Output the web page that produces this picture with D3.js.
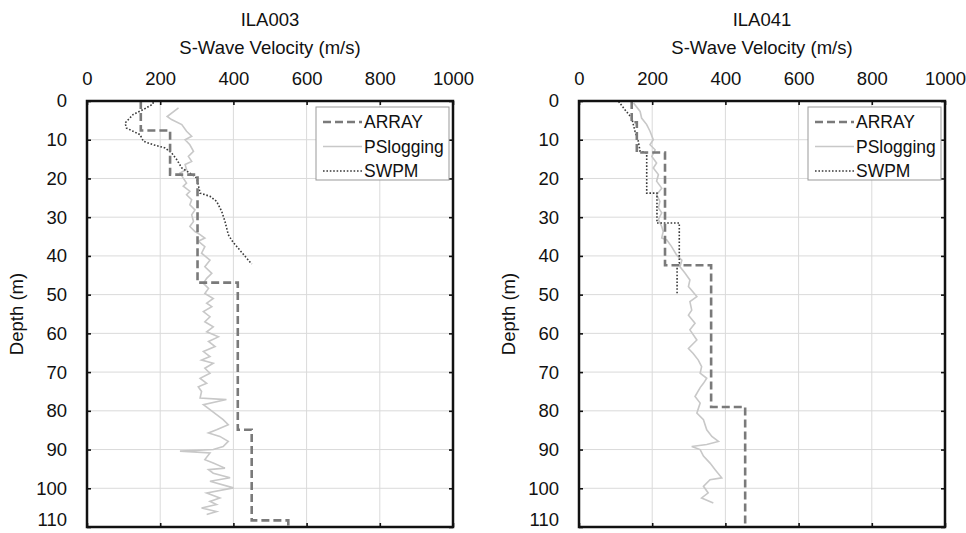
<!DOCTYPE html>
<html>
<head>
<meta charset="utf-8">
<script src="https://cdn.jsdelivr.net/npm/d3@7"></script>
<style>
  body { margin: 0; background: #fff; }
  text { font-family: "Liberation Sans", Arial, sans-serif; fill: #111; }
</style>
</head>
<body>
<svg id="chart" width="966" height="533"></svg>
<script>
// Axis ticks
const velTicks = [0, 200, 400, 600, 800, 1000]
const depthTicks = [0, 10, 20, 30, 40, 50, 60, 70, 80, 90, 100, 110]
const legendNames = ["ARRAY", "PSlogging", "SWPM"]

// ILA003 - ARRAY layers (top depth, velocity)
const arrayTops003 = [0, 7.6, 19.0, 46.9, 84.9, 108.3]
const arrayVel003 = [147, 227, 302, 412, 450, 550]

// ILA003 - SWPM [velocity, depth]
const swpm003 = [[181, 0.3], [180, 0.8], [154, 2.2], [126, 3.5], [104, 5.7], [108, 7.0], [145, 8.7],
    [154, 10.4], [181, 11.3], [213, 12.1], [231, 13.4], [245, 15.1], [259, 17.3], [281, 18.6],
    [300, 19.9], [309, 23.8], [336, 24.6], [354, 25.9], [368, 28.5], [377, 31.1], [386, 34.5],
    [395, 35.9], [404, 37.0], [450, 42.1]]

// ILA003 - PS logging [velocity, depth]
const ps003 = [[250, 1.8], [219, 4.0], [231, 4.8], [259, 6.1], [272, 7.8], [286, 9.1], [268, 10.0],
    [281, 11.3], [291, 13.0], [277, 14.3], [286, 15.6], [268, 16.4], [272, 17.7], [254, 18.6],
    [263, 19.9], [272, 21.2], [263, 22.0], [281, 23.3], [272, 24.2], [286, 25.5], [281, 26.8],
    [295, 28.1], [286, 29.4], [291, 31.1], [281, 32.4], [295, 33.7], [309, 34.5], [322, 35.4],
    [304, 36.2], [322, 37.6], [313, 39.3], [336, 41.1], [322, 42.8], [341, 44.5], [327, 45.8],
    [318, 47.1], [332, 48.4], [322, 49.7], [345, 51.0], [327, 52.2], [341, 53.1], [318, 54.4],
    [336, 55.7], [322, 57.0], [345, 58.3], [327, 59.6], [359, 60.9], [332, 62.1], [350, 63.4],
    [318, 64.7], [336, 66.0], [313, 66.9], [345, 67.7], [322, 69.0], [336, 70.3], [309, 71.6],
    [327, 72.9], [304, 73.8], [313, 75.0], [309, 76.7], [381, 77.1], [318, 78.4], [336, 79.7],
    [354, 81.0], [372, 82.3], [386, 83.6], [354, 84.9], [332, 85.7], [363, 86.6], [386, 87.9],
    [372, 89.2], [345, 90.0], [254, 90.4], [336, 90.9], [322, 92.6], [345, 93.5], [377, 94.8],
    [332, 95.2], [345, 96.1], [391, 97.3], [336, 98.2], [400, 99.9], [327, 101.2], [363, 102.5],
    [336, 103.4], [354, 104.2], [313, 105.1], [354, 106.0], [327, 106.8]]

// ILA041 - ARRAY layers
const arrayTops041 = [0, 5.5, 13.3, 42.4, 79.0]
const arrayVel041 = [144, 158, 235, 361, 454]

// ILA041 - SWPM [velocity, depth]
const swpm041 = [[108, 0.1], [125, 2.2], [144, 4.4], [153, 7.8], [162, 10.4], [167, 13.0],
    [185, 13.4], [185, 23.8], [213, 23.8], [213, 31.5], [274, 31.5], [274, 41.9], [268, 42.5],
    [268, 49.7]]

// ILA041 - PS logging [velocity, depth]
const ps041 = [[149, 0.5], [167, 2.7], [171, 4.4], [185, 6.1], [194, 7.8], [203, 10.0], [194, 11.3],
    [208, 12.6], [199, 14.3], [212, 16.0], [203, 17.3], [217, 19.0], [212, 20.7], [226, 22.5],
    [212, 24.2], [221, 25.9], [217, 27.6], [226, 28.9], [217, 30.6], [226, 32.4], [230, 33.7],
    [226, 35.4], [240, 35.9], [253, 37.6], [267, 39.8], [281, 41.1], [276, 42.8], [290, 44.5],
    [303, 46.2], [299, 47.9], [322, 50.5], [303, 51.8], [308, 54.0], [299, 55.3], [317, 57.4],
    [303, 59.1], [322, 61.7], [299, 63.9], [312, 65.2], [326, 66.9], [335, 68.6], [331, 70.3],
    [349, 71.6], [340, 72.9], [331, 74.0], [317, 76.3], [331, 78.0], [322, 80.6], [340, 82.3],
    [349, 84.9], [363, 86.6], [381, 87.9], [349, 88.7], [308, 89.2], [331, 90.0], [340, 91.7],
    [358, 93.5], [372, 95.2], [390, 97.3], [358, 97.8], [340, 99.5], [353, 101.2], [335, 102.5],
    [367, 103.8]]

const plotW = 366, plotH = 426, plotTop = 101
const fontSize = "18.5px"

const svg = d3.select("#chart")

const x = d3.scaleLinear().domain([0, 1000]).range([0, plotW])
const y = d3.scaleLinear().domain([0, 110]).range([0, plotH])

const line = d3.line().x(d => x(d[0])).y(d => y(d[1]))
const stepLine = d3.line().x(d => x(d[0])).y(d => y(d[1])).curve(d3.curveStepBefore)

const styles = {
    ARRAY: { stroke: "#7a7a7a", width: 2.6, dash: "8,4" },
    PSlogging: { stroke: "#c8c8c8", width: 1.6, dash: null },
    SWPM: { stroke: "#3a3a3a", width: 1.6, dash: "1.6,1.8" }
}

function layers(tops, vels) {
    const pts = vels.map((v, i) => [v, tops[i]])
    pts.push([vels[vels.length - 1], 110])
    return pts
}

function drawPanel(left, title, arrayPts, psPts, swpmPts) {
    const g = svg.append("g").attr("transform", `translate(${left},${plotTop})`)

    // titles
    g.append("text").attr("x", plotW / 2).attr("y", -75)
        .attr("text-anchor", "middle").style("font-size", fontSize).text(title)
    g.append("text").attr("x", plotW / 2).attr("y", -47)
        .attr("text-anchor", "middle").style("font-size", fontSize).text("S-Wave Velocity (m/s)")

    // grid
    g.selectAll(".gx").data(velTicks.slice(1, -1)).join("line")
        .attr("x1", d => x(d)).attr("x2", d => x(d)).attr("y1", 0).attr("y2", plotH)
        .attr("stroke", "#dadada").attr("stroke-width", 1)
    g.selectAll(".gy").data(depthTicks.slice(1, -1)).join("line")
        .attr("y1", d => y(d)).attr("y2", d => y(d)).attr("x1", 0).attr("x2", plotW)
        .attr("stroke", "#dadada").attr("stroke-width", 1)

    // axes (ticks inside)
    const top = g.append("g").call(d3.axisTop(x).tickValues(velTicks).tickFormat(d => d)
        .tickSizeInner(-4).tickSizeOuter(0).tickPadding(16))
    const bottom = g.append("g").attr("transform", `translate(0,${plotH})`)
        .call(d3.axisBottom(x).tickValues(velTicks).tickFormat("").tickSizeInner(-4).tickSizeOuter(0))
    const leftAx = g.append("g").call(d3.axisLeft(y).tickValues(depthTicks).tickFormat(d => d)
        .tickSizeInner(-4).tickSizeOuter(0).tickPadding(20))
    const rightAx = g.append("g").attr("transform", `translate(${plotW},0)`)
        .call(d3.axisRight(y).tickValues(depthTicks).tickFormat("").tickSizeInner(-4).tickSizeOuter(0))
    for (const a of [top, bottom, leftAx, rightAx]) {
        a.select(".domain").remove()
        a.selectAll("line").attr("stroke", "#111").attr("stroke-width", 1.6)
        a.selectAll("text").style("font-size", fontSize).attr("fill", "#111")
            .style("font-family", '"Liberation Sans", Arial, sans-serif')
    }
    // keep the last depth label inside the page
    leftAx.selectAll("text").filter(d => d === 110).attr("dy", "-0.08em")

    g.append("text").attr("transform", `translate(${-70},${plotH / 2}) rotate(-90)`)
        .attr("text-anchor", "middle").attr("dy", "0.35em").style("font-size", fontSize).text("Depth (m)")

    // series
    g.append("path").datum(psPts).attr("d", line).attr("fill", "none")
        .attr("stroke", styles.PSlogging.stroke).attr("stroke-width", styles.PSlogging.width)
    g.append("path").datum(swpmPts).attr("d", line).attr("fill", "none")
        .attr("stroke", styles.SWPM.stroke).attr("stroke-width", styles.SWPM.width)
        .attr("stroke-dasharray", styles.SWPM.dash)
    g.append("path").datum(arrayPts).attr("d", stepLine).attr("fill", "none")
        .attr("stroke", styles.ARRAY.stroke).attr("stroke-width", styles.ARRAY.width)
        .attr("stroke-dasharray", styles.ARRAY.dash)

    // frame
    g.append("rect").attr("width", plotW).attr("height", plotH)
        .attr("fill", "none").attr("stroke", "#111").attr("stroke-width", 2.5)

    // legend
    const lg = g.append("g").attr("transform", "translate(229,6)")
    lg.append("rect").attr("width", 133).attr("height", 73)
        .attr("fill", "#fff").attr("stroke", "#999").attr("stroke-width", 1)
    const rows = lg.selectAll(".row").data(legendNames).join("g")
        .attr("transform", (d, i) => `translate(0,${15 + i * 24.5})`)
    rows.append("line").attr("x1", 7).attr("x2", 46).attr("y1", 0).attr("y2", 0)
        .attr("stroke", d => styles[d].stroke).attr("stroke-width", d => styles[d].width)
        .attr("stroke-dasharray", d => styles[d].dash)
    rows.append("text").attr("x", 48).attr("dy", "0.35em").style("font-size", "17.5px").text(d => d)
}

drawPanel(87, "ILA003", layers(arrayTops003, arrayVel003), ps003, swpm003)
drawPanel(579, "ILA041", layers(arrayTops041, arrayVel041), ps041, swpm041)
</script>
</body>
</html>
